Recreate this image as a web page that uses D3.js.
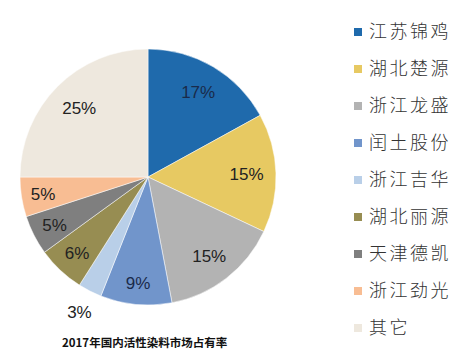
<!DOCTYPE html>
<html><head><meta charset="utf-8">
<script src="https://cdn.jsdelivr.net/npm/d3@7"></script>
<style>body{margin:0;background:#fff;}svg{display:block;}</style>
</head><body>
<script>
const categories = ["江苏锦鸡","湖北楚源","浙江龙盛","闰土股份","浙江吉华","湖北丽源","天津德凯","浙江劲光","其它"];
const values = [17,15,15,9,3,6,5,5,25];
const colors = ["#1F6AAC","#E7C962","#B3B3B3","#7195CB","#B9CFE8","#978D52","#7F7F7F","#F8BD93","#EEE8DE"];
const title = "2017年国内活性染料市场占有率";

const W=467,H=357;
const svg=d3.select("body").append("svg").attr("width",W).attr("height",H);
const cx=148, cy=177, R=128;
const data = categories.map((c,i)=>({name:c,value:values[i],color:colors[i]}));
const pie=d3.pie().value(d=>d.value).sort(null);
const arcs=pie(data);
const arc=d3.arc().innerRadius(0).outerRadius(R);
const g=svg.append("g").attr("transform",`translate(${cx},${cy})`);
g.selectAll("path").data(arcs).enter().append("path")
  .attr("d",arc).attr("fill",d=>d.data.color)
  .attr("stroke","#fff").attr("stroke-width",0.5);

// label radial factors (fraction of R)
const labelR = [0.77,0.77,0.78,0.83,1.18,0.81,0.82,0.83,0.76];
g.selectAll("text.lbl").data(arcs).enter().append("text")
  .attr("class","lbl")
  .attr("transform",(d,i)=>{const a=(d.startAngle+d.endAngle)/2; const r=R*labelR[i]; return `translate(${Math.sin(a)*r},${-Math.cos(a)*r})`;})
  .attr("text-anchor","middle").attr("dy","0.36em")
  .attr("font-family","Liberation Sans, Arial, sans-serif").attr("font-size",17)
  .attr("fill",(d,i)=>i===0||i===3?"#1a2a4a":"#222")
  .text(d=>d.data.value+"%");

// legend
const lg=svg.append("g");
const ly=d3.scalePoint().domain(categories).range([32,328]);
lg.selectAll("rect").data(data).enter().append("rect")
  .attr("x",354).attr("y",d=>ly(d.name)-4).attr("width",8).attr("height",8)
  .attr("fill",d=>d.color);
lg.selectAll("text").data(data).enter().append("text")
  .attr("x",369).attr("y",d=>ly(d.name)).attr("dy","0.36em")
  .attr("font-family","Noto Sans CJK SC").attr("font-size",18).attr("font-weight",300)
  .attr("letter-spacing",2.5).attr("fill","#333")
  .text(d=>d.name);

svg.append("text").attr("x",62).attr("y",343).attr("dy","0.36em")
  .attr("font-family","Noto Sans CJK SC").attr("font-weight",700).attr("font-size",11.5)
  .attr("fill","#111").text(title);
</script>
</body></html>
